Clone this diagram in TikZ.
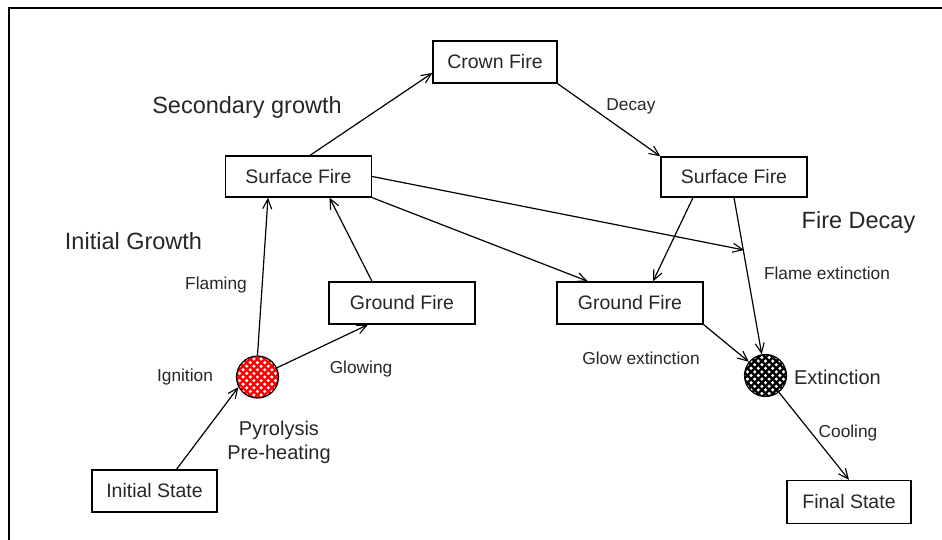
\documentclass[tikz,border=0pt]{standalone}
\usepackage{fontspec}
\setmainfont{Liberation Sans}
\usetikzlibrary{arrows.meta,calc}

\tikzset{
  firebox/.style={draw, line width=1.3pt, inner sep=0pt, minimum height=42pt,
    font=\fontsize{19.5}{23}\selectfont, text=black!85},
  hatchball/.style={circle, draw, line width=1.2pt, minimum size=42pt, inner sep=0pt,
    fill=#1,
    path picture={
      \foreach \u in {-6,...,6}{\foreach \v in {-6,...,6}{
        \fill[white] ([shift={({(\u+\v)*3.6pt},{(\u-\v)*3.6pt})}]path picture bounding box.center)
          circle[radius=1.7pt];}}}},
  flow/.style={line width=1.2pt, -{Straight Barb[length=10pt,width=9pt,line width=1.1pt]}},
  heading/.style={anchor=base, font=\fontsize{23.5}{27}\selectfont, text=black!85, inner sep=0pt},
  midlabel/.style={anchor=base, font=\fontsize{20}{24}\selectfont, text=black!85, inner sep=0pt},
  smalllabel/.style={anchor=base, font=\fontsize{17.3}{20}\selectfont, text=black!85, inner sep=0pt}
}

\begin{document}
\begin{tikzpicture}[x=1pt, y=-1pt]
  \useasboundingbox (0,0) rectangle (942,540);
  % frame
  \draw[line width=2.5pt] (9,540) -- (9,8) -- (942,8);

  % states
  \node[firebox, minimum width=124pt] (crown) at (495,62)    {Crown Fire};
  \node[firebox, minimum width=146pt, minimum height=41pt] (sfl) at (298.5,176.5) {Surface Fire};
  \node[firebox, minimum width=146pt, minimum height=40pt] (sfr) at (734,177)    {Surface Fire};
  \node[firebox, minimum width=146pt] (gfl) at (402,303)    {Ground Fire};
  \node[firebox, minimum width=146pt] (gfr) at (630,303)    {Ground Fire};
  \node[firebox, minimum width=125pt] (ini) at (154.5,491)  {Initial State};
  \node[firebox, minimum width=124pt, minimum height=43pt] (fin) at (849,502)    {Final State};
  \node[hatchball=red]   (ign) at (257.5,377) {};
  \node[hatchball=black] (ext) at (765.5,375.5) {};

  % free end on the flame-extinction path
  \coordinate (fe) at (744,250);

  % transitions
  \draw[flow] ([xshift=11.5pt]sfl.north) -- ([yshift=-11pt]crown.west);
  \draw[flow] (crown.south east) -- (sfr.north west);
  \draw[flow] (sfl.east) -- (fe);
  \draw[flow] (sfl.south east) -- ([xshift=-42pt]gfr.north);
  \draw[flow] ([xshift=-41pt]sfr.south) -- ([xshift=23pt]gfr.north);
  \draw[flow] (sfr.south) -- (ext);
  \draw[flow] (gfr.south east) -- (ext);
  \draw[flow] (ext) -- (fin.north);
  \draw[flow] (ign.north) -- ([xshift=-30.5pt]sfl.south);
  \draw[flow] (ign) -- ([xshift=-34pt]gfl.south);
  \draw[flow] ([xshift=-30pt]gfl.north) -- ([xshift=31pt]sfl.south);
  \draw[flow] ([xshift=22pt]ini.north) -- (ign.208);

  % phase headings
  \node[heading] (hsec)  at (247,114)   {Secondary growth};
  \node[heading] (hinit) at (133.5,249) {Initial Growth};
  \node[heading] (hdec)  at (858.5,229) {Fire Decay};

  % transition labels
  \node[smalllabel] (lfla) at (216,289)   {Flaming};
  \node[smalllabel] (lign) at (185,381)   {Ignition};
  \node[smalllabel] (lglo) at (361,373)   {Glowing};
  \node[smalllabel] (ldec) at (631,110.5) {Decay};
  \node[smalllabel] (lfe)  at (827,279.5) {Flame extinction};
  \node[smalllabel] (lge)  at (641,364.5) {Glow extinction};
  \node[smalllabel] (lcoo) at (848,437.5) {Cooling};
  \node[midlabel]   (lpyr) at (279,435)   {Pyrolysis};
  \node[midlabel]   (lpre) at (279,459)   {Pre-heating};
  \node[midlabel]   (lext) at (837.5,384.7) {Extinction};
\end{tikzpicture}
\end{document}
